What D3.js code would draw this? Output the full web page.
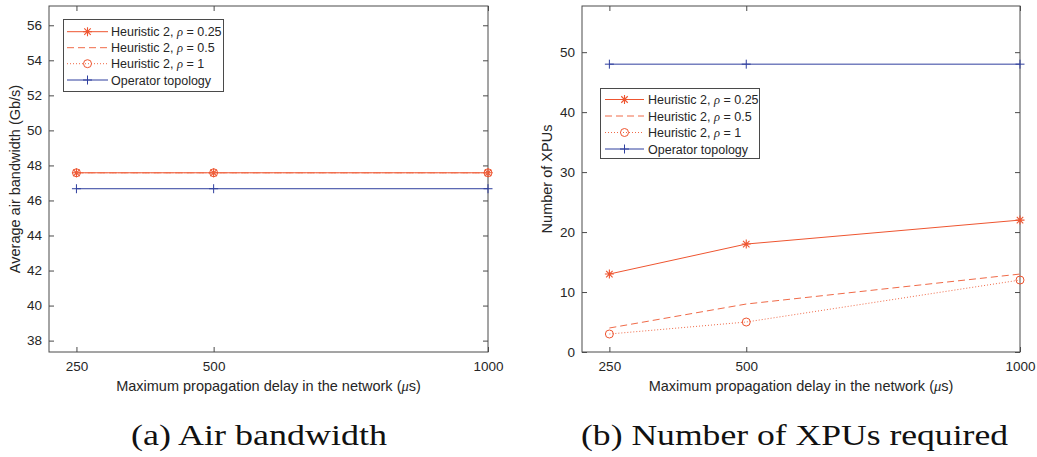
<!DOCTYPE html>
<html><head><meta charset="utf-8">
<script src="https://cdn.jsdelivr.net/npm/d3@7"></script>
<style>
body{margin:0;background:#fff;}
svg{display:block;font-family:"Liberation Sans",Arial,Helvetica,sans-serif;}
.cap{font-family:"Liberation Serif","Times New Roman",Times,serif;}
.math{font-family:"Liberation Serif","Times New Roman",serif;font-style:italic;}
</style></head>
<body><svg id="c" width="1037" height="457"></svg>
<script>
const delays = [250, 500, 1000];
const xTicks = [250, 500, 1000];
const bwH025 = [47.58, 47.58, 47.58];
const bwH05 = [47.58, 47.58, 47.58];
const bwH1 = [47.58, 47.58, 47.58];
const bwOp = [46.67, 46.67, 46.67];
const bwTicks = [38, 40, 42, 44, 46, 48, 50, 52, 54, 56];
const xpuH025 = [13, 18, 22];
const xpuH05 = [4, 8, 13];
const xpuH1 = [3, 5, 12];
const xpuOp = [48, 48, 48];
const xpuTicks = [0, 10, 20, 30, 40, 50];
const seriesNames = ["Heuristic 2, ρ = 0.25", "Heuristic 2, ρ = 0.5", "Heuristic 2, ρ = 1", "Operator topology"];
const xLabel = "Maximum propagation delay in the network (μs)";

const RED = "#ee5530", RED2 = "#f06a48", BLUE = "#2f3f9e", AX = "#4a4a4a", TXT = "#262626";
const styles = [
  {color: RED, dash: null, marker: "star"},
  {color: RED2, dash: "7,4", marker: null},
  {color: RED2, dash: "1,2", marker: "circle", mcolor: RED},
  {color: BLUE, dash: null, marker: "plus"}
];

const svg = d3.select("#c");

function marker(g, type, cx, cy, color) {
  if (type === "star") {
    const r = 4.5;
    const p = [];
    p.push(`M${cx - r},${cy}L${cx + r},${cy}`);
    p.push(`M${cx},${cy - r}L${cx},${cy + r}`);
    const d = r * 0.72;
    p.push(`M${cx - d},${cy - d}L${cx + d},${cy + d}`);
    p.push(`M${cx - d},${cy + d}L${cx + d},${cy - d}`);
    g.append("path").attr("d", p.join("")).attr("stroke", color).attr("stroke-width", 1.1).attr("fill", "none");
  } else if (type === "circle") {
    g.append("circle").attr("cx", cx).attr("cy", cy).attr("r", 4).attr("stroke", color).attr("stroke-width", 1).attr("fill", "none");
  } else if (type === "plus") {
    const r = 4.5;
    g.append("path").attr("d", `M${cx - r},${cy}L${cx + r},${cy}M${cx},${cy - r}L${cx},${cy + r}`).attr("stroke", color).attr("stroke-width", 1).attr("fill", "none");
  }
}

function labelText(sel, s) {
  const parts = s.split(/([ρμ])/);
  parts.forEach(p => {
    if (p === "ρ" || p === "μ") sel.append("tspan").attr("class", "math").text(p);
    else if (p.length) sel.append("tspan").text(p);
  });
}

function panel(opt) {
  const {x0, x1, y0, y1, ydom, yticks, data, ylabel, ylabelX, legend} = opt;
  const g = svg.append("g");
  const x = d3.scaleLinear().domain([200, 1000]).range([x0, x1]);
  const y = d3.scaleLinear().domain(ydom).range([y1, y0]);

  g.append("rect").attr("x", x0).attr("y", y0).attr("width", x1 - x0).attr("height", y1 - y0)
    .attr("fill", "none").attr("stroke", AX).attr("stroke-width", 1);

  const ax = g.append("g").attr("transform", `translate(0,${y1})`)
    .call(d3.axisBottom(x).tickValues(xTicks).tickSize(-5).tickPadding(9).tickFormat(d3.format("d")));
  const axT = g.append("g").attr("transform", `translate(0,${y0})`)
    .call(d3.axisTop(x).tickValues(xTicks).tickSize(-5).tickFormat(""));
  const ay = g.append("g").attr("transform", `translate(${x0},0)`)
    .call(d3.axisLeft(y).tickValues(yticks).tickSize(-5).tickPadding(7).tickFormat(d3.format("d")));
  const ayR = g.append("g").attr("transform", `translate(${x1},0)`)
    .call(d3.axisRight(y).tickValues(yticks).tickSize(-5).tickFormat(""));
  [ax, axT, ay, ayR].forEach(a => {
    a.attr("font-family", null).attr("font-size", null);
    a.select(".domain").remove();
    a.selectAll("line").attr("stroke", AX);
    a.selectAll("text").attr("fill", TXT).style("font-size", "13.5px");
  });

  data.forEach((vals, i) => {
    const st = styles[i];
    const pts = delays.map((d, j) => [x(d), y(vals[j])]);
    g.append("path").attr("d", d3.line()(pts)).attr("fill", "none").attr("stroke", st.color)
      .attr("stroke-width", 1).attr("stroke-dasharray", st.dash);
    if (st.marker) pts.forEach(p => marker(g, st.marker, p[0], p[1], st.mcolor || st.color));
  });

  const xl = g.append("text").attr("x", (x0 + x1) / 2).attr("y", y1 + 39).attr("text-anchor", "middle")
    .style("font-size", "14.5px").attr("fill", TXT);
  labelText(xl, xLabel);
  g.append("text").attr("transform", `translate(${ylabelX},${(y0 + y1) / 2}) rotate(-90)`)
    .attr("text-anchor", "middle").style("font-size", "14.5px").attr("fill", TXT).text(ylabel);

  const L = legend;
  g.append("rect").attr("x", L.x).attr("y", L.y).attr("width", L.w).attr("height", L.h)
    .attr("fill", "#fff").attr("stroke", AX).attr("stroke-width", 1);
  seriesNames.forEach((name, i) => {
    const st = styles[i];
    const ry = L.rows[i];
    g.append("line").attr("x1", L.lx0).attr("x2", L.lx1).attr("y1", ry).attr("y2", ry)
      .attr("stroke", st.color).attr("stroke-width", 1).attr("stroke-dasharray", st.dash);
    if (st.marker) marker(g, st.marker, (L.lx0 + L.lx1) / 2, ry, st.mcolor || st.color);
    const t = g.append("text").attr("x", L.tx).attr("y", ry + 4.5).style("font-size", "12.5px").attr("fill", TXT);
    labelText(t, name);
  });
}

panel({
  x0: 49, x1: 488, y0: 6, y1: 352, ydom: [37.35, 57.1], yticks: bwTicks,
  data: [bwH025, bwH05, bwH1, bwOp], ylabel: "Average air bandwidth (Gb/s)", ylabelX: 20,
  legend: {x: 63.5, y: 19.5, w: 160, h: 72, rows: [31.7, 47.7, 63.7, 80], lx0: 67, lx1: 108, tx: 111}
});
panel({
  x0: 582, x1: 1020, y0: 6, y1: 352, ydom: [0, 57.7], yticks: xpuTicks,
  data: [xpuH025, xpuH05, xpuH1, xpuOp], ylabel: "Number of XPUs", ylabelX: 552,
  legend: {x: 600.5, y: 88.5, w: 159, h: 70, rows: [99.5, 116, 132.5, 149], lx0: 605, lx1: 644, tx: 648}
});

svg.append("text").attr("class", "cap").attr("x", 131).attr("y", 445)
  .style("font-size", "30px").attr("fill", "#111").attr("textLength", 256).attr("lengthAdjust", "spacingAndGlyphs")
  .text("(a) Air bandwidth");
svg.append("text").attr("class", "cap").attr("x", 581).attr("y", 445)
  .style("font-size", "30px").attr("fill", "#111").attr("textLength", 427).attr("lengthAdjust", "spacingAndGlyphs")
  .text("(b) Number of XPUs required");
</script></body></html>
